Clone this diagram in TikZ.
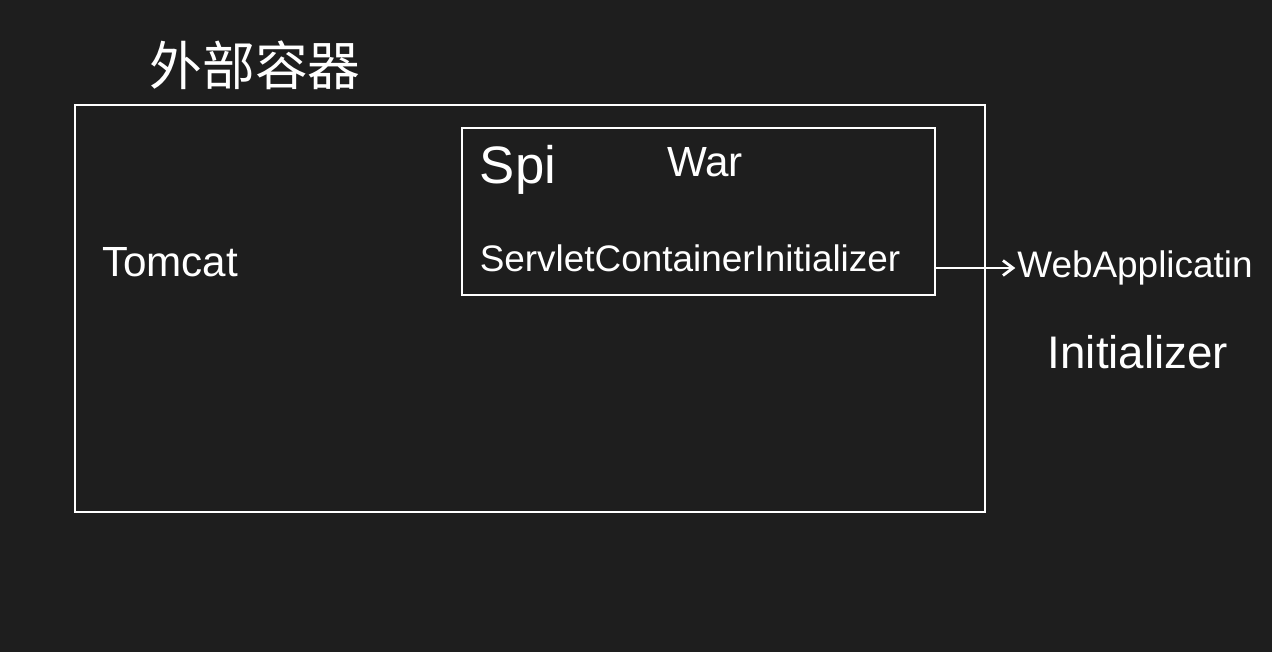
\documentclass[tikz,border=0pt]{standalone}
\usepackage{fontspec}
\setmainfont{Liberation Sans}
\newfontfamily\cjk{Noto Sans CJK SC}
\usetikzlibrary{arrows.meta}
\definecolor{board}{RGB}{30,30,30}
\begin{document}
\begin{tikzpicture}[>={Straight Barb[length=2mm,width=3mm]},
  chalk/.style={draw=white, line width=1.6pt},
  note/.style={text=white, inner sep=1pt}]
\fill[board] (0,0) rectangle (25.44,13.04);
\useasboundingbox (0,0) rectangle (25.44,13.04);
\node[chalk, minimum width=18.2cm, minimum height=8.14cm] (outer) at (10.6,6.87) {};
\node[chalk, minimum width=9.46cm, minimum height=3.34cm] (inner) at (13.97,8.81) {};
\node[note, font=\cjk\fontsize{30}{36}\selectfont] (title) at (5.1,11.74) {外部容器};
\node[note, font=\fontsize{24}{28}\selectfont] (tomcat) at (3.4,7.8) {Tomcat};
\node[note, font=\fontsize{30}{36}\selectfont] (spi) at (10.36,9.64) {Spi};
\node[note, font=\fontsize{24}{28}\selectfont] (war) at (14.1,9.8) {War};
\node[note, font=\fontsize{21}{25}\selectfont] (sci) at (13.8,7.88) {ServletContainerInitializer};
\node[note, font=\fontsize{21}{25}\selectfont] (webapp) at (22.7,7.68) {WebApplicatin};
\node[note, font=\fontsize{26}{30}\selectfont] (webinit) at (22.76,6.0) {Initializer};
\draw[chalk, ->] (inner.east |- webapp.west) -- (webapp.west);
\end{tikzpicture}
\end{document}
